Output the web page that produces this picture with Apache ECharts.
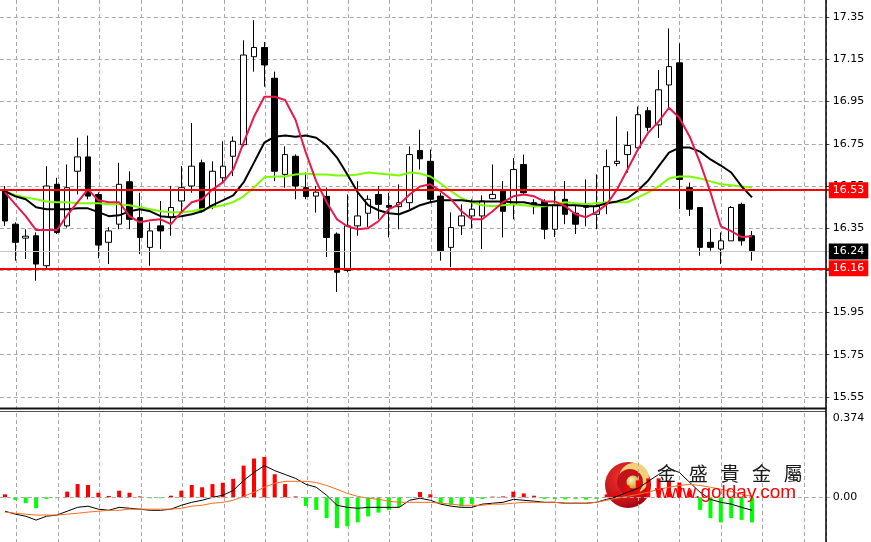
<!DOCTYPE html>
<html><head><meta charset="utf-8">
<script src="https://cdn.jsdelivr.net/npm/echarts@6/dist/echarts.min.js"></script>
<style>html,body{margin:0;padding:0;background:#fff}#c{width:871px;height:542px}</style>
</head><body><div id="c"></div>
<script>
// ---- data ----
const slotCount = 80; // 73 bars + empty space on the right
const categories = Array.from({length: slotCount}, (_, i) => 'Bar ' + (i + 1));

const open = [16.526,16.369,16.303,16.314,16.172,16.558,16.361,16.62,16.688,16.51,
16.283,16.369,16.57,16.4,16.259,16.361,16.4,16.479,16.55,16.66,
16.455,16.589,16.691,16.746,17.163,17.207,17.061,16.605,16.691,16.542,
16.502,16.501,16.322,16.149,16.361,16.421,16.51,16.458,16.452,16.471,
16.718,16.667,16.502,16.259,16.361,16.408,16.408,16.49,16.525,16.463,
16.652,16.471,16.477,16.345,16.487,16.421,16.463,16.416,16.468,16.657,
16.699,16.731,16.907,16.84,17.029,17.134,16.542,16.448,16.283,16.251,
16.29,16.463,16.314];
const close = [16.384,16.283,16.312,16.18,16.55,16.33,16.542,16.688,16.502,16.27,
16.337,16.558,16.392,16.306,16.337,16.337,16.448,16.542,16.644,16.432,
16.62,16.644,16.762,17.171,17.207,17.124,16.62,16.699,16.55,16.5,
16.521,16.306,16.141,16.361,16.408,16.487,16.463,16.449,16.471,16.699,
16.679,16.487,16.243,16.353,16.408,16.44,16.479,16.51,16.43,16.628,
16.518,16.452,16.345,16.463,16.416,16.369,16.449,16.454,16.642,16.667,
16.742,16.888,16.828,17.006,17.116,16.581,16.44,16.259,16.259,16.29,
16.448,16.29,16.243];
const low = [16.361,16.196,16.204,16.101,16.16,16.322,16.353,16.51,16.487,16.207,
16.18,16.345,16.345,16.227,16.172,16.251,16.314,16.424,16.518,16.424,
16.44,16.566,16.597,16.738,17.092,17.021,16.573,16.542,16.487,16.487,
16.424,16.213,16.047,16.141,16.314,16.355,16.392,16.306,16.345,16.44,
16.628,16.471,16.196,16.165,16.317,16.35,16.251,16.487,16.306,16.392,
16.51,16.416,16.298,16.308,16.369,16.322,16.359,16.345,16.416,16.644,
16.613,16.728,16.809,16.778,16.919,16.44,16.408,16.219,16.243,16.18,
16.29,16.267,16.196];
const high = [16.55,16.378,16.345,16.33,16.644,16.589,16.652,16.779,16.789,16.52,
16.355,16.66,16.62,16.518,16.378,16.479,16.55,16.644,16.849,16.675,
16.667,16.762,16.785,17.241,17.336,17.233,17.092,16.738,16.70,16.614,
16.55,16.543,16.33,16.51,16.573,16.506,16.55,16.518,16.558,16.738,
16.817,16.723,16.518,16.425,16.463,16.487,16.506,16.652,16.573,16.683,
16.699,16.487,16.487,16.534,16.573,16.458,16.581,16.605,16.723,16.88,
16.809,16.927,16.924,17.1,17.297,17.226,16.566,16.45,16.349,16.33,
16.455,16.471,16.337];

const maFast = [16.52,16.463,16.407,16.341,16.341,16.341,16.411,16.473,16.534,16.482,
16.473,16.473,16.407,16.378,16.388,16.392,16.369,16.426,16.473,16.487,
16.534,16.567,16.628,16.756,16.878,16.973,16.973,16.958,16.864,16.708,
16.572,16.473,16.392,16.359,16.345,16.35,16.383,16.44,16.463,16.51,
16.548,16.558,16.525,16.487,16.43,16.392,16.392,16.43,16.473,16.501,
16.51,16.501,16.477,16.477,16.454,16.416,16.402,16.426,16.463,16.534,
16.628,16.723,16.803,16.855,16.921,16.874,16.784,16.661,16.52,16.359,
16.336,16.308,16.312];
const maMid = [16.525,16.501,16.487,16.449,16.44,16.44,16.44,16.444,16.444,16.426,
16.407,16.411,16.43,16.44,16.43,16.407,16.402,16.407,16.416,16.43,
16.459,16.482,16.506,16.567,16.661,16.756,16.784,16.789,16.784,16.789,
16.779,16.742,16.685,16.605,16.52,16.459,16.435,16.421,16.416,16.435,
16.459,16.473,16.482,16.482,16.482,16.477,16.477,16.477,16.477,16.473,
16.473,16.463,16.459,16.459,16.459,16.459,16.454,16.454,16.468,16.477,
16.492,16.529,16.576,16.643,16.708,16.732,16.732,16.713,16.676,16.647,
16.614,16.548,16.496];
const maSlow = [16.525,16.506,16.496,16.487,16.477,16.473,16.473,16.468,16.468,16.468,
16.463,16.463,16.459,16.449,16.44,16.43,16.426,16.426,16.43,16.44,
16.449,16.459,16.473,16.501,16.543,16.591,16.595,16.595,16.605,16.609,
16.605,16.605,16.6,16.6,16.605,16.614,16.609,16.605,16.6,16.614,
16.609,16.595,16.562,16.525,16.492,16.473,16.459,16.454,16.459,16.463,
16.459,16.454,16.454,16.463,16.473,16.468,16.463,16.468,16.473,16.473,
16.473,16.496,16.52,16.548,16.586,16.595,16.595,16.586,16.572,16.558,
16.553,16.548,16.543];

const macdHist = [0.013,-0.012,-0.026,-0.048,-0.007,-0.004,0.025,0.058,0.054,0.02,
0.006,0.029,0.02,0.004,-0.004,-0.004,0.007,0.029,0.054,0.044,
0.058,0.064,0.081,0.139,0.17,0.177,0.101,0.058,0.004,-0.038,
-0.055,-0.091,-0.135,-0.127,-0.11,-0.084,-0.067,-0.055,-0.044,-0.003,
0.023,0.013,-0.026,-0.033,-0.04,-0.029,-0.007,0.003,0.004,0.025,
0.017,0.007,-0.007,-0.007,-0.009,-0.007,-0.01,-0.007,0.013,0.026,
0.052,0.074,0.083,0.083,0.074,0.065,0.03,-0.055,-0.091,-0.11,
-0.091,-0.099,-0.11];
const macdLine = [-0.061,-0.074,-0.083,-0.1,-0.083,-0.078,-0.061,-0.044,-0.039,-0.052,
-0.057,-0.044,-0.048,-0.052,-0.057,-0.057,-0.052,-0.035,-0.022,-0.013,
0,0.009,0.03,0.074,0.109,0.139,0.117,0.1,0.083,0.057,
0.044,0.009,-0.035,-0.044,-0.048,-0.044,-0.044,-0.044,-0.044,-0.013,
-0.004,-0.013,-0.03,-0.039,-0.044,-0.044,-0.03,-0.026,-0.022,-0.009,
-0.013,-0.017,-0.022,-0.022,-0.026,-0.026,-0.026,-0.022,-0.009,0.004,
0.022,0.039,0.07,0.1,0.126,0.109,0.065,0.022,-0.009,-0.022,
-0.03,-0.044,-0.057];
const signalLine = [-0.065,-0.07,-0.074,-0.078,-0.078,-0.078,-0.074,-0.07,-0.065,-0.061,
-0.057,-0.057,-0.052,-0.052,-0.052,-0.052,-0.052,-0.048,-0.039,-0.035,
-0.026,-0.022,-0.013,0.004,0.022,0.044,0.061,0.07,0.07,0.07,
0.065,0.052,0.035,0.017,0.004,-0.004,-0.009,-0.017,-0.022,-0.022,
-0.022,-0.022,-0.026,-0.03,-0.035,-0.035,-0.035,-0.03,-0.03,-0.026,
-0.022,-0.022,-0.022,-0.022,-0.026,-0.026,-0.026,-0.022,-0.013,-0.004,
0.004,0.013,0.022,0.035,0.044,0.052,0.057,0.052,0.044,0.035,
0.026,0.013,0.004];

const priceLevels = [16.53, 16.24, 16.16]; // resistance, last price, support
const priceTicks = {min: 15.55, max: 17.55, step: 0.2};
const macdTicks = {min: -0.196, max: 0.374, step: 0.196};
const brandName = '金盛貴金屬';
const brandUrl = 'www.golday.com';

// ---- chart ----
const chart = echarts.init(document.getElementById('c'), null, {renderer: 'canvas'});
const candleData = open.map((o, i) => [o, close[i], low[i], high[i]]);
const FONT = 'DejaVu Sans';
const gridDash = {color: '#a8a8a8', type: [4, 3], width: 1};

const levelLabel = (bg) => ({
  show: true, position: 'end', distance: -1, color: '#fff', backgroundColor: bg,
  padding: [3, 4, 2, 4], fontFamily: FONT, fontSize: 11
});

const graphics = [
  {type: 'line', z: 100, shape: {x1: 0, y1: 408.5, x2: 826, y2: 408.5}, style: {stroke: '#111', lineWidth: 2}},
  {type: 'line', z: 100, shape: {x1: 0, y1: 411.5, x2: 826, y2: 411.5}, style: {stroke: '#555', lineWidth: 1}},
  {type: 'line', z: 100, shape: {x1: 826, y1: 0, x2: 826, y2: 542}, style: {stroke: '#000', lineWidth: 1.5}},
  {type: 'group', z: 100, children: [
    {type: 'circle', shape: {cx: 628, cy: 485, r: 23}, style: {fill: new echarts.graphic.RadialGradient(0.4, 0.35, 0.75, [
      {offset: 0, color: '#f0352c'}, {offset: 0.7, color: '#c2101a'}, {offset: 1, color: '#8a0008'}])}},
    {type: 'circle', shape: {cx: 634, cy: 478, r: 15}, style: {fill: '#f2d07a'}},
    {type: 'circle', shape: {cx: 630, cy: 482, r: 13}, style: {fill: '#c4121b'}},
    {type: 'circle', shape: {cx: 633, cy: 482, r: 6.5}, style: {fill: new echarts.graphic.RadialGradient(0.35, 0.35, 0.8, [
      {offset: 0, color: '#fff4b8'}, {offset: 1, color: '#c08a10'}])}}
  ]},
  {type: 'text', z: 100, x: 655, y: 493, style: {text: brandUrl, fill: '#ff0000', font: '19px "Liberation Sans"', textVerticalAlign: 'middle'}}
];
brandName.split('').forEach((ch, i) => {
  graphics.push({type: 'text', z: 100, x: 657 + i * 31.7, y: 474,
    style: {text: ch, fill: '#1a1a1a', font: '19px "Noto Sans CJK TC"', textVerticalAlign: 'middle'}});
});

const option = {
  animation: false,
  backgroundColor: '#ffffff',
  graphic: graphics,
  grid: [
    {left: -0.2, top: -24.9, width: 830, height: 421.8, containLabel: false, outerBoundsMode: 'none'},
    {left: -0.2, top: 412, width: 830, height: 130, containLabel: false, outerBoundsMode: 'none'},
    {left: -24.74, top: 0, width: 850.74, height: 542, containLabel: false, outerBoundsMode: 'none'}
  ],
  xAxis: [
    {gridIndex: 0, type: 'category', data: categories, boundaryGap: true, show: false},
    {gridIndex: 1, type: 'category', data: categories, boundaryGap: true, show: false},
    {gridIndex: 2, type: 'value', min: 0, max: 850.74, interval: 41.44,
      axisLine: {show: false}, axisTick: {show: false}, axisLabel: {show: false},
      splitLine: {show: true, lineStyle: gridDash}}
  ],
  yAxis: [
    {gridIndex: 0, type: 'value', position: 'right', offset: -4,
      min: priceTicks.min, max: priceTicks.max, interval: priceTicks.step,
      axisLine: {show: false},
      axisTick: {show: true, length: 3, lineStyle: {color: '#333'}},
      axisLabel: {margin: 7, color: '#000', fontFamily: FONT, fontSize: 11,
        formatter: v => (v > 17.5 ? '' : v.toFixed(2))},
      splitLine: {show: true, lineStyle: gridDash}},
    {gridIndex: 1, type: 'value', position: 'right', offset: -4,
      min: macdTicks.min, max: macdTicks.max, interval: macdTicks.step,
      axisLine: {show: false}, axisTick: {show: false}, splitLine: {show: false},
      axisLabel: {margin: 7, color: '#000', fontFamily: FONT, fontSize: 11,
        formatter: v => Math.abs(v) < 1e-9 ? '0.00' : (Math.abs(v - macdTicks.max) < 1e-9 ? '{t|' + macdTicks.max.toFixed(3) + '}' : ''),
        rich: {t: {padding: [12, 0, 0, 0], fontFamily: FONT, fontSize: 11, color: '#000'}}}},
    {gridIndex: 2, type: 'value', min: 0, max: 1, show: false}
  ],
  series: [
    {type: 'candlestick', xAxisIndex: 0, yAxisIndex: 0, data: candleData, barWidth: 6, clip: false,
      itemStyle: {color: '#ffffff', color0: '#000000', borderColor: '#000000', borderColor0: '#000000', borderWidth: 1},
      markLine: {silent: true, symbol: 'none', animation: false,
        data: [
          {yAxis: priceLevels[0], lineStyle: {color: '#ff0000', width: 2, type: 'solid'},
            label: Object.assign(levelLabel('#ff0000'), {formatter: priceLevels[0].toFixed(2)})},
          {yAxis: priceLevels[1], lineStyle: {color: '#c4c4c4', width: 1, type: 'solid'},
            label: Object.assign(levelLabel('#000000'), {formatter: priceLevels[1].toFixed(2)})},
          {yAxis: priceLevels[2], lineStyle: {color: '#ff0000', width: 2, type: 'solid'},
            label: Object.assign(levelLabel('#ff0000'), {formatter: priceLevels[2].toFixed(2)})}
        ]}},
    {type: 'line', xAxisIndex: 0, yAxisIndex: 0, data: maSlow, symbol: 'none', lineStyle: {color: '#7cfc00', width: 2}},
    {type: 'line', xAxisIndex: 0, yAxisIndex: 0, data: maMid, symbol: 'none', lineStyle: {color: '#000000', width: 2}},
    {type: 'line', xAxisIndex: 0, yAxisIndex: 0, data: maFast, symbol: 'none', lineStyle: {color: '#e8194a', width: 2}},
    {type: 'bar', xAxisIndex: 1, yAxisIndex: 1, data: macdHist, barWidth: 4,
      itemStyle: {color: p => (p.value >= 0 ? '#ff0000' : '#00ff00')},
      markLine: {silent: true, symbol: 'none', label: {show: false}, data: [{yAxis: 0}],
        lineStyle: {color: '#a8a8a8', type: [4, 3], width: 1}}},
    {type: 'line', xAxisIndex: 1, yAxisIndex: 1, data: macdLine, symbol: 'none', lineStyle: {color: '#000000', width: 1}},
    {type: 'line', xAxisIndex: 1, yAxisIndex: 1, data: signalLine, symbol: 'none', lineStyle: {color: '#ff6a1a', width: 1}}
  ]
};
chart.setOption(option);
</script></body></html>
